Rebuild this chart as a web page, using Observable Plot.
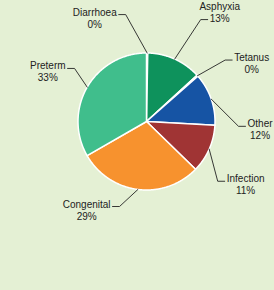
<!DOCTYPE html>
<html><head><meta charset="utf-8">
<script src="https://cdn.jsdelivr.net/npm/d3@7"></script>
<script src="https://cdn.jsdelivr.net/npm/@observablehq/plot@0.6"></script>
<style>
html,body{margin:0;padding:0;background:#e4f0d4;}
</style></head><body><div id="chart"></div>
<script>
// ---- data ----
const causes = ["Diarrhoea","Asphyxia","Tetanus","Other","Infection","Congenital","Preterm"];
const shares = [0.3, 12.9, 0.3, 12.4, 11.4, 29.4, 33.3];
const pctLabels = ["0%","13%","0%","12%","11%","29%","33%"];
const colors = ["#8cc152","#0e925c","#2a8fc0","#1654a4","#a03434","#f7922e","#40be8c"];

// ---- label layout (elbow of each leader, polar in pie radii) ----
const labelAngle = [349, 28, 52, 93, 130, 197.6, 306.4];
const labelRadius = [1.59, 1.685, 1.457, 1.345, 1.357, 1.302, 1.305];
const leaderLine = [0, 1, 0, 0, 0, 0, 0];

const W = 274, H = 290, CX = 146, CY = 121, R = 68.5;
const SEG = 7, GAP = 2, LINE = 12, FONT = 10;
const fontFamily = "'Liberation Sans', Arial, Helvetica, sans-serif";

const ctx = document.createElement("canvas").getContext("2d");
ctx.font = `${FONT}px ${fontFamily}`;
const measure = s => ctx.measureText(s).width;

const arcs = d3.pie().sort(null).value(d => d)(shares);

const slicePts = [];
arcs.forEach((a, i) => {
  slicePts.push({name: causes[i], x: 0, y: 0});
  const n = Math.max(2, Math.ceil((a.endAngle - a.startAngle) / 0.01));
  for (let k = 0; k <= n; k++) {
    const t = a.startAngle + (a.endAngle - a.startAngle) * k / n;
    slicePts.push({name: causes[i], x: Math.sin(t), y: Math.cos(t)});
  }
});

const leaders = [], names = [], pcts = [];
arcs.forEach((a, i) => {
  const mid = (a.startAngle + a.endAngle) / 2;
  const th = labelAngle[i] * Math.PI / 180;
  const ex = labelRadius[i] * Math.sin(th), ey = labelRadius[i] * Math.cos(th);
  const side = ex >= 0 ? 1 : -1;
  const endX = ex + side * SEG / R;
  leaders.push({name: causes[i], x: Math.sin(mid), y: Math.cos(mid)});
  leaders.push({name: causes[i], x: ex, y: ey});
  leaders.push({name: causes[i], x: endX, y: ey});
  const w = measure(leaderLine[i] === 0 ? causes[i] : pctLabels[i]);
  const tx = endX + side * (GAP + w / 2) / R;
  let nameY, pctY;
  if (leaderLine[i] === 0) {
    nameY = ey + (3.2 - 1) / R;
    pctY = nameY - LINE / R;
  } else {
    pctY = ey + (3.2 - 2) / R;
    nameY = pctY + LINE / R;
  }
  names.push({text: causes[i], x: tx, y: nameY});
  pcts.push({text: pctLabels[i], x: tx, y: pctY});
});

const chart = Plot.plot({
  width: W, height: H, margin: 0,
  x: {domain: [-CX / R, (W - CX) / R], axis: null},
  y: {domain: [-(H - CY) / R, CY / R], axis: null},
  color: {domain: causes, range: colors},
  style: {background: "#e4f0d4", fontFamily, fontSize: FONT + "px", color: "#222"},
  marks: [
    Plot.line(slicePts, {x: "x", y: "y", z: "name", fill: "name", stroke: "white", strokeWidth: 1.5, curve: "linear-closed"}),
    Plot.line(leaders, {x: "x", y: "y", z: "name", stroke: "#222", strokeWidth: 0.9}),
    Plot.text(names, {x: "x", y: "y", text: "text", fill: "#222", fontSize: FONT, textAnchor: "middle"}),
    Plot.text(pcts, {x: "x", y: "y", text: "text", fill: "#222", fontSize: FONT, textAnchor: "middle"})
  ]
});
document.getElementById("chart").appendChild(chart);
</script></body></html>
